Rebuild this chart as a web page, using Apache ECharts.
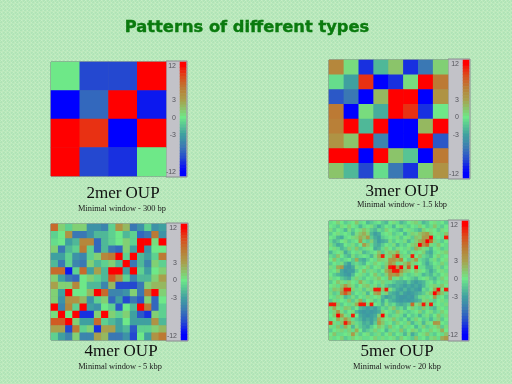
<!DOCTYPE html>
<html>
<head>
<meta charset="utf-8">
<style>html,body{margin:0;padding:0;background:#b9e9bd}#c{width:512px;height:384px}#c canvas{filter:blur(0.4px)}</style>
<script src="https://cdn.jsdelivr.net/npm/echarts@6/dist/echarts.min.js"></script>
</head>
<body>
<div id="c"></div>
<script>
var chartTitle = 'Patterns of different types';
var names = ['2mer OUP', '3mer OUP', '4mer OUP', '5mer OUP'];
var notes = ['Minimal window - 300 bp', 'Minimal window - 1.5 kbp', 'Minimal window - 5 kbp', 'Minimal window - 20 kbp'];

var oup2 = [
  [0,-9,-9,12],
  [-12,-7,12,-11],
  [12,10,-12,12],
  [12,-9,-10,0]
];
var oup3 = [
  [5,0.5,-10,-2,1.5,-10,-6,1],
  [-0.5,-3,10,-12,-10,0.5,12,6],
  [-8,-6,-12,2,12,12,-12,4],
  [6,-12,0.5,-2.5,12,10,-10,0],
  [5.5,12,-2,12,-12,-12,2,12],
  [4,1.5,12,-5,-12,-12,12,-8],
  [12,12,-12,12,1.5,-1.5,-12,6],
  [1.5,-2,-9,-0.5,-6,-10,1,4]
];
var oup4 = [
  [7,1,-1,1,1,-4,-4,-5,-1,4,2,-6,-4,-1,-4,-3],
  [-1,0,4,-6,-6,-4,-2,-2,-1,0,-2,-1,-7,-6,6,-4],
  [-0.5,0,-3,-2,5,5,-7,-2,-1,0,1,-1,12,12,0.5,12],
  [1,-6,-2,-1,6,-1,-7,-2,-6,-7,1,-3,12,-4,0,0],
  [-3,-3,-1,-4,-5,-1,1,5,6,12,-1,12,-2,-3,-1,6],
  [-2,-6,-1,-5,-6,1,-2,-1,1,-2,12,-6,-2,-5,1,-1],
  [7,7,-11,-1,7,-3,3,-2,12,12,-3,12,-1,-3,0,1],
  [1,-3,-6,-7,0,1,-1,-2,8,4,-1,-5,-2,-2,1,3],
  [3,1,1,5,0,-2,-2,-5,2,-9,-9,-9,-6,1,2,2],
  [1,-3,12,0,0,2,12,7,-5,-5,-4,1,-6,6,12,1],
  [1,-4,4,4,2,-4,-1,1,-7,-3,-9,-6,-8,1,-7,0],
  [12,-5,5,-1,12,-3,-4,0,-1,-8,0,-2,12,6,-7,-1],
  [0.5,12,0,12,-10,-10,1,12,1,-1,1,-3,-8,-10,1,-1],
  [8,8,12,1,-3,-3,7,-1,-2,-3,0,-3,-3,-3,4,-2],
  [3,3,-9,6,-1,1,-10,3,3,-3,-2,-8,-1,-1,1,2],
  [-1,-3,-5,1,-5,-5,3,2,-6,-6,-4,-9,0,-3,4,6]
];
var oup5 = [
  [-.5,0,1,0,-1.2,-.5,0,1.5,-.5,0,-2,-1.2,-.5,0,-1.2,-2,0,.5,-.5,-2,-1.2,0,.5,1,-.5,-2,-1.2,0,.5,-.5,0,-1.2],
  [0,-.5,-1.2,.5,0,1,0,-.5,-2,-.5,0,.5,-1.2,-2.5,-1.2,0,-.5,-2,0,.5,-.5,-1.2,0,-.5,1,0,-1.2,-.5,1.5,-.5,-1.2,0],
  [.5,-1.2,0,-.5,-2,.5,-1.2,0,.5,1.5,.5,-1.2,-2,-.5,-1.2,1,0,-.5,-1.2,-2,0,.5,-.5,-1.2,-2,1,0,.5,0,-1.2,.5,0],
  [-1.2,0,.5,-.5,0,-.5,-2,.5,1.5,2.5,1,-2,-3,-2.5,-.5,0,.5,-1.2,-.5,0,-2,-.5,1,.5,1.5,2.5,3.5,1,0,.5,-.5,1.5],
  [0,-.5,-2,-2.5,-.5,0,.5,1,2.5,1.5,3.5,-1.2,-2.5,-3,-1.2,-.5,0,-.5,.5,-1.2,0,.5,-1.2,1.5,1,3.5,3.5,12,-.5,0,-.5,11],
  [-.5,-2,-1.2,0,.5,-1.2,-.5,0,3.5,-.5,-1.2,1,-2,-3,-2.5,-2,.5,-1.2,0,-.5,.5,-2,-.5,1,2.5,4,12,7,1,-.5,-1.2,0],
  [.5,-1.2,-2.5,-2,0,-.5,.5,-1.2,0,3.5,1.5,-.5,-2,-2.5,-1.2,0,-.5,.5,-2,-.5,-1.2,0,1,1.5,12,4,7,.5,-.5,1.5,0,-.5],
  [0,.5,-.5,-2,-1.2,1,-.5,1.5,-1.2,-.5,.5,0,-2.5,-2,-.5,1,0,-1.2,.5,0,-.5,.5,-1.2,2.5,1.5,.5,-.5,-2,0,.5,-1.2,-.5],
  [-2,-.5,0,.5,-2.5,-1.2,0,-.5,.5,-2,-1.2,-.5,0,1.5,-1.2,.5,1.5,1,2.5,-.5,0,-1.2,.5,-.5,0,1,-2,-2.5,-.5,0,.5,1],
  [-.5,-1.2,1.5,0,-1.2,-2,.5,-1.2,-.5,0,-.5,-2,.5,2.5,11,.5,1,3.5,11,1,-.5,.5,11,0,1.5,-.5,-1.2,-2,0,1,-.5,0],
  [0,1.5,-.5,-1.2,-.5,0,-1.2,2.5,-2,-2.5,-1.2,0,-.5,1.5,1,.5,3.5,4,2.5,5,0,-1.2,1.5,3.5,-.5,-1.2,-2,-.5,.5,-1.2,0,.5],
  [-1.2,0,-.5,.5,-2,-3,-1.2,-.5,-1.2,-2,0,-.5,1,0,-.5,1,4,2.5,-.5,.5,1.5,3.5,1,-.5,0,-1.2,-2.5,-1.2,0,-.5,1,-.5],
  [.5,-.5,2.5,3.5,-3,-3.5,-2.5,.5,-.5,0,1,-1.2,0,.5,-1.2,1.5,11,12,4,12,1,8,.5,12,-.5,-.5,-2,-2,-.5,.5,-1.2,0],
  [-.5,0,1,-2.5,-3.5,-3,-3,-1.2,0,1.5,-.5,.5,-.5,-1.2,0,2.5,5,11,11,3.5,1.5,1,0,1.5,.5,0,-1.2,-2.5,-1.2,0,.5,-.5],
  [0,-1.2,-2,-2.5,-3,-3.5,-2,0,.5,-.5,-1.2,0,1.5,-.5,-1.2,1,4,3.5,5,1.5,-.5,-1.2,-.5,.5,-.5,-2,-1.2,-2,-.5,-1.2,0,.5],
  [.5,-.5,0,-1.2,-2,-2.5,-.5,1,-.5,-1.2,0,-.5,.5,1.5,0,-.5,3.5,-.5,.5,-1.2,0,-.5,-1.2,-2,-.5,0,.5,-1.2,-2,-.5,1,0],
  [-1.2,0,1.5,.5,-.5,1,0,-.5,2.5,.5,-.5,-1.2,0,-.5,1,-.5,-.5,-1.2,-2,-2,-2.5,-1.2,-2.5,-3,-2.5,-2,-.5,0,-1.2,0,-.5,.5],
  [0,.5,-.5,1.5,3.5,1.5,.5,-1.2,0,1,1.5,-.5,.5,-1.2,.5,-1.2,-2,-2.5,-2,-2.5,-3,-2.5,-3,-2.5,-3,-2,-.5,.5,1,-.5,1.5,0],
  [-.5,1.5,1,2.5,11,11,1,-.5,.5,-1.2,.5,1,11,11,1.5,11,.5,-1.2,-2.5,-3,-2,-3,-2.5,-3,-3.5,-.5,-1.2,0,2.5,12,.5,11],
  [.5,-1.2,-.5,4,8,3.5,-1.2,0,-.5,.5,-2,0,2.5,3.5,-.5,1,-2,-2.5,-3,-2,-3,-3.5,-3,-2.5,-2,-1.2,.5,1.5,12,4,1.5,-.5],
  [0,-.5,1,.5,-2,-1.2,.5,-1.2,0,-.5,1,-.5,0,.5,-2,-3,-2.5,-2,-3,-3.5,-3.5,-3,-3.5,-2,-.5,.5,-.5,0,3.5,-.5,0,-1.2],
  [-1.2,.5,-.5,0,-.5,1.5,-1.2,.5,2.5,-1.2,0,.5,-1.2,-.5,-2.5,-.5,-2,-2.5,-3,-3.5,-3,-3.5,-3,-2.5,-2,.5,1,-.5,-1.2,0,.5,-.5],
  [11,11,1.5,-1.2,0,-.5,.5,2.5,11,11,1,11,0,-.5,-2,.5,-1.2,-.5,-2,-2.5,-2,-1.2,7,.5,1.5,11,1,11,-.5,0,-.5,.5],
  [.5,2.5,.5,-.5,1.5,1,-1.2,0,-2,-2.5,-3,-2.5,-3,-2,-.5,-1.2,.5,1.5,-1.2,-.5,-2,0,1,-.5,-1.2,1.5,-.5,-1.2,-2,.5,0,-.5],
  [-.5,1,3.5,.5,-1.2,0,.5,-2,-3,-3.5,-3,-3.5,-3,-2.5,1,0,-.5,-1.2,1.5,.5,-.5,-1.2,-.5,0,1,-1.2,0,.5,-1.2,-.5,1,0],
  [0,1.5,12,3.5,.5,-.5,11,0,-2.5,-3,-3.5,-3,-2.5,1,12,.5,-1.2,-.5,.5,-.5,-2,0,-1.2,-.5,-2,-.5,.5,-1.2,0,1.5,-.5,.5],
  [-.5,0,2.5,1,3.5,1.5,-.5,-1.2,-2,-3,-2.5,-3,-2,2.5,1,0,.5,1.5,-.5,-1.2,0,-2,-.5,1,0,-1.2,-.5,-2,-.5,1,-1.2,0],
  [10,.5,-.5,1.5,11,4,1,-.5,-1.2,-2.5,-2,-3,-1.2,3.5,1.5,-.5,0,-1.2,1,0,-.5,1,-2,-.5,.5,-2,.5,0,4,3.5,0,-.5],
  [.5,-.5,1.5,-1.2,2.5,.5,-2,.5,-1.2,-2,-2.5,-1.2,0,1.5,.5,-1.2,1.5,-.5,0,-1.2,.5,-.5,0,-2,-.5,1,-1.2,-.5,.5,1.5,-1.2,.5],
  [-1.2,0,.5,1,-.5,1,-.5,2.5,0,-2,-1.2,-.5,1,-.5,0,-2,-.5,.5,-.5,1.5,-1.2,0,1,.5,-1.2,0,-.5,1,0,.5,2.5,0],
  [0,1.5,-.5,-.5,0,.5,3.5,.5,-1.2,0,.5,-1.2,-.5,.5,-1.2,0,1,-1.2,0,-.5,-2,.5,-2.5,-1.2,0,.5,1.5,-.5,-1.2,0,-.5,1.5],
  [.5,-.5,0,1,-1.2,-.5,1,0,.5,-.5,-.5,0,1,-.5,.5,-.5,0,.5,-1.2,1,0,-.5,-1.2,1.5,-.5,0,-1.2,.5,1,-.5,2.5,3.5]
];
var matrices = [oup2, oup3, oup4, oup5];

// colour legend: one value per row from top to bottom, and the tick labels on those rows
var legendValues = [12,12,11,10.2,9.5,8.7,8,7.2,6.5,5.7,5,4.2,3.6,3,2.5,2,1.5,1,0.5,0,-0.5,-1,-1.5,-2,-2.5,-3,-3.6,-4.2,-5,-5.7,-6.5,-7.2,-8,-8.7,-9.5,-10.2,-11,-11.5,-12,-12];
var legendTicks = [12, 3, 0, -3, -12];

// layout only
var layout = [
  {x:51,  y:62,  w:115, h:114, barX:180, barW:6, panelR:187, nameX:123, nameY:194, noteX:122, noteY:209},
  {x:329, y:60,  w:119, h:118, barX:463, barW:6, panelR:470, nameX:402, nameY:192, noteX:402, noteY:205},
  {x:51,  y:224, w:115, h:116, barX:181, barW:6, panelR:188, nameX:121, nameY:352, noteX:120, noteY:367},
  {x:329, y:221, w:119, h:119, barX:462, barW:6, panelR:469, nameX:397, nameY:352, noteX:397, noteY:367}
];
var scaleColors = ['#0000ff','#2448d0','#3a78b4','#3fa0a0','#6ee888','#a8a04c','#bc7a34','#dc4a1c','#ff0000'];

function texture() {
  var c = document.createElement('canvas');
  c.width = 4; c.height = 4;
  var g = c.getContext('2d');
  var pal = ['#b0e4b6','#c4eec6','#bce9bc','#aee2b8'];
  for (var y = 0; y < 4; y++) for (var x = 0; x < 4; x++) {
    g.fillStyle = pal[(x + 2 * y + (x * y)) % 4];
    g.fillRect(x, y, 1, 1);
  }
  return c;
}

var grids = [], xAxes = [], yAxes = [], series = [], graphics = [];
var titles = [{
  text: chartTitle, left: 247, top: 28, padding: 0, textAlign: 'center', textVerticalAlign: 'middle',
  textStyle: {fontFamily: 'DejaVu Sans', fontWeight: 'bold', fontSize: 16.3, color: '#0a7a0e', textBorderColor: '#0a7a0e', textBorderWidth: 0.4}
}];

function seq(n) { var a = []; for (var i = 0; i < n; i++) a.push(String(i)); return a; }

layout.forEach(function (p, i) {
  var m = matrices[i], n = m.length;
  graphics.push({type: 'rect', z: 0, shape: {x: p.x + p.w, y: p.y - 1, width: p.panelR - p.x - p.w, height: p.h + 2},
    style: {fill: '#c2c2c8', stroke: '#8a8a90', lineWidth: 1}});
  grids.push({left: p.x, top: p.y, width: p.w, height: p.h, show: true, borderColor: '#6a6a72', borderWidth: 1, backgroundColor: '#808080'});
  xAxes.push({type: 'category', gridIndex: 2 * i, data: seq(n), show: false});
  yAxes.push({type: 'category', gridIndex: 2 * i, data: seq(n), inverse: true, show: false});
  var cells = [];
  m.forEach(function (row, r) { row.forEach(function (v, c) { cells.push([c, r, v]); }); });
  series.push({type: 'heatmap', xAxisIndex: 2 * i, yAxisIndex: 2 * i, data: cells, progressive: 0, animation: false, silent: true});

  grids.push({left: p.barX, top: p.y, width: p.barW, height: p.h, show: true, borderColor: '#55555c', borderWidth: 1});
  xAxes.push({type: 'category', gridIndex: 2 * i + 1, data: ['0'], show: false});
  var cats = legendValues.map(function (v, r) { return String(r); });
  var tickRows = legendTicks.map(function (t) {
    var first = legendValues.indexOf(t);
    return t === 12 ? 1 : t === -12 ? legendValues.length - 2 : first;
  });
  yAxes.push({type: 'category', gridIndex: 2 * i + 1, data: cats, inverse: true,
    axisLine: {show: false}, axisTick: {show: false}, splitLine: {show: false},
    axisLabel: {interval: 0, margin: 4, fontSize: 7, color: '#55555c', fontFamily: 'Liberation Sans',
      formatter: function (val, idx) {
        var k = tickRows.indexOf(idx);
        return k < 0 ? '' : String(legendTicks[k]);
      }}});
  series.push({type: 'heatmap', xAxisIndex: 2 * i + 1, yAxisIndex: 2 * i + 1,
    data: legendValues.map(function (v, r) { return [0, r, v]; }), progressive: 0, animation: false, silent: true});

  titles.push({text: names[i], left: p.nameX, top: p.nameY, padding: 0, textAlign: 'center', textVerticalAlign: 'middle',
    textStyle: {fontFamily: 'Liberation Serif', fontWeight: 'normal', fontSize: 17, color: '#101010'}});
  titles.push({text: notes[i], left: p.noteX, top: p.noteY, padding: 0, textAlign: 'center', textVerticalAlign: 'middle',
    textStyle: {fontFamily: 'Liberation Serif', fontWeight: 'normal', fontSize: 8.4, color: '#202020'}});
});

var chart = echarts.init(document.getElementById('c'), null, {renderer: 'canvas'});
chart.setOption({
  animation: false,
  backgroundColor: {image: texture(), repeat: 'repeat'},
  title: titles,
  tooltip: {show: false},
  grid: grids,
  xAxis: xAxes,
  yAxis: yAxes,
  visualMap: {type: 'continuous', show: false, min: -12, max: 12, dimension: 2,
    seriesIndex: series.map(function (s, i) { return i; }),
    inRange: {color: scaleColors}},
  graphic: graphics,
  series: series
});
</script>
</body>
</html>
